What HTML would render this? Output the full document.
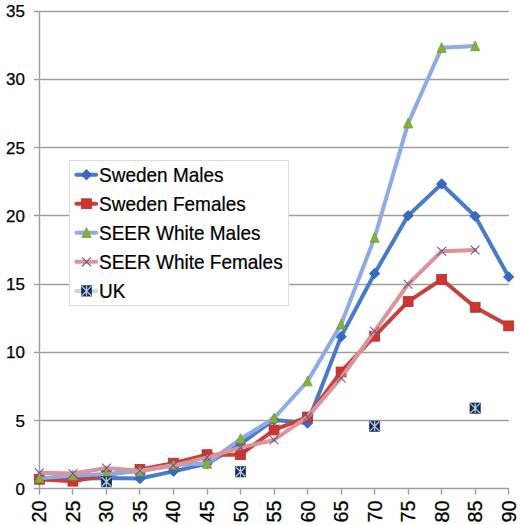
<!DOCTYPE html>
<html><head><meta charset="utf-8"><title>Chart</title>
<style>html,body{margin:0;padding:0;background:#fff;}svg{display:block;}text{font-family:"Liberation Sans",sans-serif;}</style>
</head><body>
<svg width="520" height="525" viewBox="0 0 520 525"><g stroke="#E8E8E8" stroke-width="3" fill="none"><path d="M34 420.5H509" /><path d="M34 352.5H509" /><path d="M34 284.5H509" /><path d="M34 215.5H509" /><path d="M34 147.5H509" /><path d="M34 79.5H509" /><path d="M34 11.5H509" /><path d="M39.5 11V488.5" /><path d="M34 488.5H509" /><path d="M39.5 489V494.5M72.5 489V494.5M106.5 489V494.5M139.5 489V494.5M173.5 489V494.5M207.5 489V494.5M240.5 489V494.5M274.5 489V494.5M307.5 489V494.5M341.5 489V494.5M374.5 489V494.5M408.5 489V494.5M441.5 489V494.5M475.5 489V494.5M508.5 489V494.5" /></g>
<g stroke="#9E9E9E" stroke-width="1" fill="none"><path d="M34 420.5H509" /><path d="M34 352.5H509" /><path d="M34 284.5H509" /><path d="M34 215.5H509" /><path d="M34 147.5H509" /><path d="M34 79.5H509" /><path d="M34 11.5H509" /><path d="M39.5 11V488.5" /><path d="M34 488.5H509" /><path d="M39.5 489V494.5M72.5 489V494.5M106.5 489V494.5M139.5 489V494.5M173.5 489V494.5M207.5 489V494.5M240.5 489V494.5M274.5 489V494.5M307.5 489V494.5M341.5 489V494.5M374.5 489V494.5M408.5 489V494.5M441.5 489V494.5M475.5 489V494.5M508.5 489V494.5" /></g>
<g font-family="Liberation Sans, sans-serif" font-size="17" fill="#000" stroke="#000" stroke-width="0.25"><text x="25" y="494.8" text-anchor="end">0</text><text x="25" y="426.6" text-anchor="end">5</text><text x="25" y="358.3" text-anchor="end">10</text><text x="25" y="290.1" text-anchor="end">15</text><text x="25" y="221.9" text-anchor="end">20</text><text x="25" y="153.6" text-anchor="end">25</text><text x="25" y="85.4" text-anchor="end">30</text><text x="25" y="17.2" text-anchor="end">35</text></g>
<g font-family="Liberation Sans, sans-serif" font-size="19.8" fill="#000" stroke="#000" stroke-width="0.25"><text transform="translate(46.40,500.6) rotate(-90)" text-anchor="end">20</text><text transform="translate(79.92,500.6) rotate(-90)" text-anchor="end">25</text><text transform="translate(113.44,500.6) rotate(-90)" text-anchor="end">30</text><text transform="translate(146.96,500.6) rotate(-90)" text-anchor="end">35</text><text transform="translate(180.48,500.6) rotate(-90)" text-anchor="end">40</text><text transform="translate(214.00,500.6) rotate(-90)" text-anchor="end">45</text><text transform="translate(247.52,500.6) rotate(-90)" text-anchor="end">50</text><text transform="translate(281.04,500.6) rotate(-90)" text-anchor="end">55</text><text transform="translate(314.56,500.6) rotate(-90)" text-anchor="end">60</text><text transform="translate(348.08,500.6) rotate(-90)" text-anchor="end">65</text><text transform="translate(381.60,500.6) rotate(-90)" text-anchor="end">70</text><text transform="translate(415.12,500.6) rotate(-90)" text-anchor="end">75</text><text transform="translate(448.64,500.6) rotate(-90)" text-anchor="end">80</text><text transform="translate(482.16,500.6) rotate(-90)" text-anchor="end">85</text><text transform="translate(515.68,500.6) rotate(-90)" text-anchor="end">90</text></g>
<polyline points="39.40,479.52 72.92,478.97 106.44,477.88 139.96,478.57 173.48,471.33 207.00,463.69 240.52,443.77 274.04,419.89 307.56,423.03 341.08,336.65 374.60,273.47 408.12,215.61 441.64,183.95 475.16,216.29 508.68,276.88" fill="none" stroke="#4A7BCB" stroke-width="4.0" stroke-linejoin="round" stroke-linecap="round"/>
<path d="M39.40 474.32L44.60 479.52L39.40 484.72L34.20 479.52Z" fill="#346AC2" stroke="#2F62B5" stroke-width="0.8"/><path d="M72.92 473.77L78.12 478.97L72.92 484.17L67.72 478.97Z" fill="#346AC2" stroke="#2F62B5" stroke-width="0.8"/><path d="M106.44 472.68L111.64 477.88L106.44 483.08L101.24 477.88Z" fill="#346AC2" stroke="#2F62B5" stroke-width="0.8"/><path d="M139.96 473.37L145.16 478.57L139.96 483.77L134.76 478.57Z" fill="#346AC2" stroke="#2F62B5" stroke-width="0.8"/><path d="M173.48 466.13L178.68 471.33L173.48 476.53L168.28 471.33Z" fill="#346AC2" stroke="#2F62B5" stroke-width="0.8"/><path d="M207.00 458.49L212.20 463.69L207.00 468.89L201.80 463.69Z" fill="#346AC2" stroke="#2F62B5" stroke-width="0.8"/><path d="M240.52 438.57L245.72 443.77L240.52 448.97L235.32 443.77Z" fill="#346AC2" stroke="#2F62B5" stroke-width="0.8"/><path d="M274.04 414.69L279.24 419.89L274.04 425.09L268.84 419.89Z" fill="#346AC2" stroke="#2F62B5" stroke-width="0.8"/><path d="M307.56 417.83L312.76 423.03L307.56 428.23L302.36 423.03Z" fill="#346AC2" stroke="#2F62B5" stroke-width="0.8"/><path d="M341.08 331.45L346.28 336.65L341.08 341.85L335.88 336.65Z" fill="#346AC2" stroke="#2F62B5" stroke-width="0.8"/><path d="M374.60 268.27L379.80 273.47L374.60 278.67L369.40 273.47Z" fill="#346AC2" stroke="#2F62B5" stroke-width="0.8"/><path d="M408.12 210.41L413.32 215.61L408.12 220.81L402.92 215.61Z" fill="#346AC2" stroke="#2F62B5" stroke-width="0.8"/><path d="M441.64 178.75L446.84 183.95L441.64 189.15L436.44 183.95Z" fill="#346AC2" stroke="#2F62B5" stroke-width="0.8"/><path d="M475.16 211.09L480.36 216.29L475.16 221.49L469.96 216.29Z" fill="#346AC2" stroke="#2F62B5" stroke-width="0.8"/><path d="M508.68 271.68L513.88 276.88L508.68 282.08L503.48 276.88Z" fill="#346AC2" stroke="#2F62B5" stroke-width="0.8"/>
<polyline points="39.40,479.25 72.92,481.16 106.44,475.15 139.96,469.42 173.48,463.15 207.00,454.69 240.52,454.69 274.04,429.99 307.56,417.02 341.08,371.99 374.60,336.24 408.12,301.58 441.64,279.33 475.16,307.31 508.68,325.87" fill="none" stroke="#C4413E" stroke-width="4.0" stroke-linejoin="round" stroke-linecap="round"/>
<rect x="34.45" y="474.30" width="9.90" height="9.90" fill="#CE3430" stroke="#AE3030" stroke-width="0.8"/><rect x="67.97" y="476.21" width="9.90" height="9.90" fill="#CE3430" stroke="#AE3030" stroke-width="0.8"/><rect x="101.49" y="470.20" width="9.90" height="9.90" fill="#CE3430" stroke="#AE3030" stroke-width="0.8"/><rect x="135.01" y="464.47" width="9.90" height="9.90" fill="#CE3430" stroke="#AE3030" stroke-width="0.8"/><rect x="168.53" y="458.20" width="9.90" height="9.90" fill="#CE3430" stroke="#AE3030" stroke-width="0.8"/><rect x="202.05" y="449.74" width="9.90" height="9.90" fill="#CE3430" stroke="#AE3030" stroke-width="0.8"/><rect x="235.57" y="449.74" width="9.90" height="9.90" fill="#CE3430" stroke="#AE3030" stroke-width="0.8"/><rect x="269.09" y="425.04" width="9.90" height="9.90" fill="#CE3430" stroke="#AE3030" stroke-width="0.8"/><rect x="302.61" y="412.07" width="9.90" height="9.90" fill="#CE3430" stroke="#AE3030" stroke-width="0.8"/><rect x="336.13" y="367.04" width="9.90" height="9.90" fill="#CE3430" stroke="#AE3030" stroke-width="0.8"/><rect x="369.65" y="331.29" width="9.90" height="9.90" fill="#CE3430" stroke="#AE3030" stroke-width="0.8"/><rect x="403.17" y="296.63" width="9.90" height="9.90" fill="#CE3430" stroke="#AE3030" stroke-width="0.8"/><rect x="436.69" y="274.38" width="9.90" height="9.90" fill="#CE3430" stroke="#AE3030" stroke-width="0.8"/><rect x="470.21" y="302.36" width="9.90" height="9.90" fill="#CE3430" stroke="#AE3030" stroke-width="0.8"/><rect x="503.73" y="320.92" width="9.90" height="9.90" fill="#CE3430" stroke="#AE3030" stroke-width="0.8"/>
<polyline points="39.40,478.16 72.92,475.43 106.44,474.06 139.96,471.33 173.48,464.92 207.00,463.55 240.52,438.86 274.04,418.25 307.56,381.27 341.08,324.37 374.60,237.71 408.12,123.36 441.64,47.76 475.16,46.12" fill="none" stroke="#8EABE6" stroke-width="4.0" stroke-linejoin="round" stroke-linecap="round"/>
<path d="M39.40 472.96L44.00 482.76L34.80 482.76Z" fill="#86B03A" stroke="#729A2E" stroke-width="0.8" stroke-linejoin="round"/><path d="M72.92 470.23L77.52 480.03L68.32 480.03Z" fill="#86B03A" stroke="#729A2E" stroke-width="0.8" stroke-linejoin="round"/><path d="M106.44 468.86L111.04 478.66L101.84 478.66Z" fill="#86B03A" stroke="#729A2E" stroke-width="0.8" stroke-linejoin="round"/><path d="M139.96 466.13L144.56 475.93L135.36 475.93Z" fill="#86B03A" stroke="#729A2E" stroke-width="0.8" stroke-linejoin="round"/><path d="M173.48 459.72L178.08 469.52L168.88 469.52Z" fill="#86B03A" stroke="#729A2E" stroke-width="0.8" stroke-linejoin="round"/><path d="M207.00 458.35L211.60 468.15L202.40 468.15Z" fill="#86B03A" stroke="#729A2E" stroke-width="0.8" stroke-linejoin="round"/><path d="M240.52 433.66L245.12 443.46L235.92 443.46Z" fill="#86B03A" stroke="#729A2E" stroke-width="0.8" stroke-linejoin="round"/><path d="M274.04 413.05L278.64 422.85L269.44 422.85Z" fill="#86B03A" stroke="#729A2E" stroke-width="0.8" stroke-linejoin="round"/><path d="M307.56 376.07L312.16 385.87L302.96 385.87Z" fill="#86B03A" stroke="#729A2E" stroke-width="0.8" stroke-linejoin="round"/><path d="M341.08 319.17L345.68 328.97L336.48 328.97Z" fill="#86B03A" stroke="#729A2E" stroke-width="0.8" stroke-linejoin="round"/><path d="M374.60 232.51L379.20 242.31L370.00 242.31Z" fill="#86B03A" stroke="#729A2E" stroke-width="0.8" stroke-linejoin="round"/><path d="M408.12 118.16L412.72 127.96L403.52 127.96Z" fill="#86B03A" stroke="#729A2E" stroke-width="0.8" stroke-linejoin="round"/><path d="M441.64 42.56L446.24 52.36L437.04 52.36Z" fill="#86B03A" stroke="#729A2E" stroke-width="0.8" stroke-linejoin="round"/><path d="M475.16 40.92L479.76 50.72L470.56 50.72Z" fill="#86B03A" stroke="#729A2E" stroke-width="0.8" stroke-linejoin="round"/>
<polyline points="39.40,472.83 72.92,473.52 106.44,467.92 139.96,470.79 173.48,465.60 207.00,457.41 240.52,447.59 274.04,439.95 307.56,416.89 341.08,377.99 374.60,331.19 408.12,284.25 441.64,251.22 475.16,250.00" fill="none" stroke="#DC9498" stroke-width="4.0" stroke-linejoin="round" stroke-linecap="round"/>
<path d="M35.00 468.43L43.80 477.23M43.80 468.43L35.00 477.23" stroke="#6E5C82" stroke-width="1.1" fill="none"/><path d="M68.52 469.12L77.32 477.92M77.32 469.12L68.52 477.92" stroke="#6E5C82" stroke-width="1.1" fill="none"/><path d="M102.04 463.52L110.84 472.32M110.84 463.52L102.04 472.32" stroke="#6E5C82" stroke-width="1.1" fill="none"/><path d="M135.56 466.39L144.36 475.19M144.36 466.39L135.56 475.19" stroke="#6E5C82" stroke-width="1.1" fill="none"/><path d="M169.08 461.20L177.88 470.00M177.88 461.20L169.08 470.00" stroke="#6E5C82" stroke-width="1.1" fill="none"/><path d="M202.60 453.01L211.40 461.81M211.40 453.01L202.60 461.81" stroke="#6E5C82" stroke-width="1.1" fill="none"/><path d="M236.12 443.19L244.92 451.99M244.92 443.19L236.12 451.99" stroke="#6E5C82" stroke-width="1.1" fill="none"/><path d="M269.64 435.55L278.44 444.35M278.44 435.55L269.64 444.35" stroke="#6E5C82" stroke-width="1.1" fill="none"/><path d="M303.16 412.49L311.96 421.29M311.96 412.49L303.16 421.29" stroke="#6E5C82" stroke-width="1.1" fill="none"/><path d="M336.68 373.59L345.48 382.39M345.48 373.59L336.68 382.39" stroke="#6E5C82" stroke-width="1.1" fill="none"/><path d="M370.20 326.79L379.00 335.59M379.00 326.79L370.20 335.59" stroke="#6E5C82" stroke-width="1.1" fill="none"/><path d="M403.72 279.85L412.52 288.65M412.52 279.85L403.72 288.65" stroke="#6E5C82" stroke-width="1.1" fill="none"/><path d="M437.24 246.82L446.04 255.62M446.04 246.82L437.24 255.62" stroke="#6E5C82" stroke-width="1.1" fill="none"/><path d="M470.76 245.59L479.56 254.40M479.56 245.59L470.76 254.40" stroke="#6E5C82" stroke-width="1.1" fill="none"/>
<rect x="101.24" y="476.50" width="10.40" height="10.40" fill="#122A4C" stroke="#1E3A60" stroke-width="0.6"/><path d="M101.66 476.92L111.22 486.49M111.22 476.92L101.66 486.49M106.44 476.76L106.44 486.64" stroke="#B2C9E8" stroke-width="1.3" fill="none"/><rect x="235.32" y="466.54" width="10.40" height="10.40" fill="#122A4C" stroke="#1E3A60" stroke-width="0.6"/><path d="M235.74 466.96L245.30 476.53M245.30 466.96L235.74 476.53M240.52 466.80L240.52 476.68" stroke="#B2C9E8" stroke-width="1.3" fill="none"/><rect x="369.40" y="421.10" width="10.40" height="10.40" fill="#122A4C" stroke="#1E3A60" stroke-width="0.6"/><path d="M369.82 421.52L379.38 431.09M379.38 421.52L369.82 431.09M374.60 421.36L374.60 431.24" stroke="#B2C9E8" stroke-width="1.3" fill="none"/><rect x="469.96" y="402.95" width="10.40" height="10.40" fill="#122A4C" stroke="#1E3A60" stroke-width="0.6"/><path d="M470.38 403.37L479.94 412.94M479.94 403.37L470.38 412.94M475.16 403.21L475.16 413.09" stroke="#B2C9E8" stroke-width="1.3" fill="none"/>
<rect x="69.5" y="160.5" width="219.0" height="145.0" fill="#fff" stroke="#DCDCDC" stroke-width="1"/><path d="M76.4 174.70H96.2" stroke="#4A7BCB" stroke-width="4.0" stroke-linecap="round"/><path d="M86.50 169.50L91.70 174.70L86.50 179.90L81.30 174.70Z" fill="#346AC2" stroke="#2F62B5" stroke-width="0.8"/><text transform="translate(99,181.70) scale(1,1.045)" font-family="Liberation Sans, sans-serif" font-size="19" fill="#000" stroke="#000" stroke-width="0.2">Sweden Males</text><path d="M76.4 203.75H96.2" stroke="#C4413E" stroke-width="4.0" stroke-linecap="round"/><rect x="81.55" y="198.80" width="9.90" height="9.90" fill="#CE3430" stroke="#AE3030" stroke-width="0.8"/><text transform="translate(99,210.75) scale(1,1.045)" font-family="Liberation Sans, sans-serif" font-size="19" fill="#000" stroke="#000" stroke-width="0.2">Sweden Females</text><path d="M76.4 232.80H96.2" stroke="#8EABE6" stroke-width="4.0" stroke-linecap="round"/><path d="M86.50 227.60L91.10 237.40L81.90 237.40Z" fill="#86B03A" stroke="#729A2E" stroke-width="0.8" stroke-linejoin="round"/><text transform="translate(99,239.80) scale(1,1.045)" font-family="Liberation Sans, sans-serif" font-size="19" fill="#000" stroke="#000" stroke-width="0.2">SEER White Males</text><path d="M76.4 261.85H96.2" stroke="#DC9498" stroke-width="4.0" stroke-linecap="round"/><path d="M82.10 257.45L90.90 266.25M90.90 257.45L82.10 266.25" stroke="#6E5C82" stroke-width="1.1" fill="none"/><text transform="translate(99,268.85) scale(1,1.045)" font-family="Liberation Sans, sans-serif" font-size="19" fill="#000" stroke="#000" stroke-width="0.2">SEER White Females</text><path d="M76.4 290.90H96.2" stroke="#D0D3D8" stroke-width="4.0" stroke-linecap="round"/><rect x="81.30" y="285.70" width="10.40" height="10.40" fill="#122A4C" stroke="#1E3A60" stroke-width="0.6"/><path d="M81.72 286.12L91.28 295.68M91.28 286.12L81.72 295.68M86.50 285.96L86.50 295.84" stroke="#B2C9E8" stroke-width="1.3" fill="none"/><text transform="translate(99,297.90) scale(1,1.045)" font-family="Liberation Sans, sans-serif" font-size="19" fill="#000" stroke="#000" stroke-width="0.2">UK</text></svg>
</body></html>
